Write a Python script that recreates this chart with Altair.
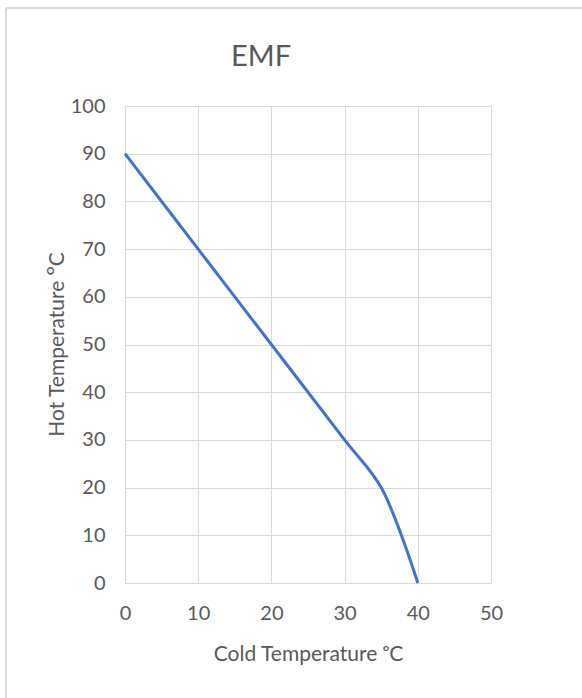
import altair as alt
import pandas as pd

cold = [0, 10, 20, 30, 35, 40]
hot = [90, 70, 50, 30, 20, 0]
x_ticks = [0, 10, 20, 30, 40, 50]
y_ticks = [0, 10, 20, 30, 40, 50, 60, 70, 80, 90, 100]

df = pd.DataFrame({"cold": cold, "hot": hot})

FONT = "Lato"
TXT = "#595959"
GRID = "#d9d9d9"

line = alt.Chart(df).mark_line(
    color="#4472C4", strokeWidth=3, interpolate="catmull-rom"
).encode(
    x=alt.X("cold:Q",
            scale=alt.Scale(domain=[0, 50], nice=False),
            axis=alt.Axis(values=x_ticks, title="Cold Temperature ᵒC",
                          grid=True, ticks=False, domain=True,
                          domainColor=GRID, gridColor=GRID,
                          labelFlush=False,
                          labelPadding=20, labelFontSize=20,
                          titleFontSize=21, titleFontWeight="normal",
                          titleY=71, titleBaseline="middle")),
    y=alt.Y("hot:Q",
            scale=alt.Scale(domain=[0, 100], nice=False),
            axis=alt.Axis(values=y_ticks, title="Hot Temperature ᴼC",
                          grid=True, ticks=False, domain=False,
                          gridColor=GRID, labelFlush=False,
                          labelPadding=20, labelFontSize=20,
                          titleFontSize=21, titleFontWeight="normal",
                          titleX=-68, titleY=238, titleAngle=-90,
                          titleBaseline="middle")),
)

title = alt.Chart(pd.DataFrame({"t": ["EMF"]})).mark_text(
    font=FONT, fontSize=29, color=TXT, align="center", baseline="middle"
).encode(text="t:N", x=alt.value(136), y=alt.value(-49))

frame_left = alt.Chart(pd.DataFrame({"a": [0]})).mark_rule(
    color=GRID, strokeWidth=2
).encode(x=alt.value(-119), y=alt.value(-98), y2=alt.value(592))

frame_top = alt.Chart(pd.DataFrame({"a": [0]})).mark_rule(
    color=GRID, strokeWidth=2
).encode(x=alt.value(-119), x2=alt.value(457), y=alt.value(-98))

chart = alt.layer(frame_left, frame_top, line, title).properties(
    width=366, height=477,
    autosize=alt.AutoSizeParams(type="none"),
    padding={"left": 125, "top": 106, "right": 91, "bottom": 115},
    background="white",
).configure_view(stroke=None).configure_axis(
    labelFont=FONT, titleFont=FONT, labelColor=TXT, titleColor=TXT,
    gridWidth=1,
)

chart.save("out.html", embed_options={"renderer": "svg", "actions": False})
